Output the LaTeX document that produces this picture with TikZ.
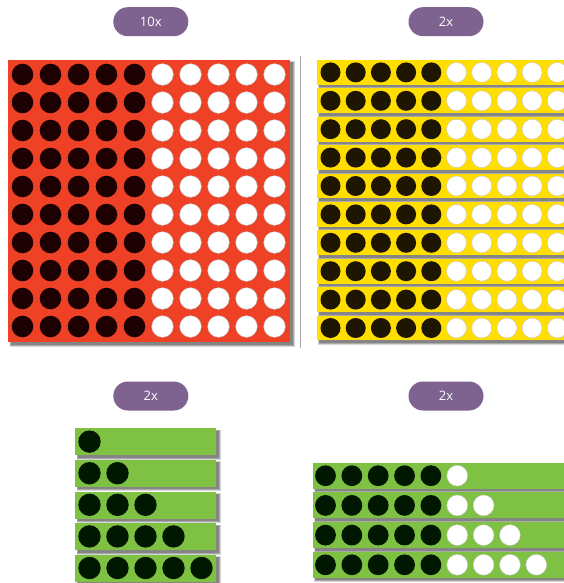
\documentclass[tikz,border=0pt]{standalone}
\usepackage{fontspec}
\setmainfont{Open Sans}
\definecolor{pillc}{HTML}{7E6390}
\definecolor{redc}{HTML}{EF4126}
\definecolor{yelc}{HTML}{FFDE00}
\definecolor{grnc}{HTML}{7EC143}
\definecolor{dkred}{HTML}{1C0002}
\definecolor{dkyel}{HTML}{1E1600}
\definecolor{dkgrn}{HTML}{001800}
\definecolor{shad}{HTML}{5A5A5A}
\begin{document}
\begin{tikzpicture}[x=1pt,y=-1pt,
  pill/.style={fill=pillc,rounded corners=14.5pt,minimum width=75pt,minimum height=29pt,inner sep=0pt,text=white,font=\fontsize{13}{13}\selectfont},
  whitedot/.style={fill=white,draw=gray!45,line width=0.4pt},
]
\clip (0,0) rectangle (564,583);
\fill[white] (0,0) rectangle (564,583);
% soft shadow macro via layered rectangles
\def\softshadow(#1,#2,#3,#4){%
  \fill[shad,opacity=0.25] (#1+1.5,#2+1.5) rectangle (#3+4.5,#4+4.5);
  \fill[shad,opacity=0.35] (#1+2,#2+2) rectangle (#3+3.5,#4+3.5);
  \fill[shad,opacity=0.45] (#1+2.5,#2+2.5) rectangle (#3+2.5,#4+2.5);
}
% labels
\node[pill] (l1) at (150.8,21.7) {10x};
\node[pill] (l2) at (446,21.7) {2x};
\node[pill] (l3) at (150.8,396) {2x};
\node[pill] (l4) at (446,396) {2x};
% divider
\draw[gray!70,line width=0.9pt] (300,56) -- (300,348);
% red square
\softshadow(8,60,290,342)
\fill[redc] (8,60) rectangle (290,342);
\foreach \j in {0,...,9}{
  \foreach \k in {0,...,4}{
    \fill[dkred] (22.5+28*\k,74.5+28*\j) circle (10.8);
  }
  \foreach \k in {5,...,9}{
    \draw[whitedot] (22.5+28*\k,74.5+28*\j) circle (10.8);
  }
}
% yellow strips
\foreach \i in {0,...,9}{
  \pgfmathsetmacro{\t}{60+28.4*\i}
  \softshadow(316.7,\t,570,\t+24.8)
  \fill[yelc] (316.7,\t) rectangle (570,\t+24.8);
  \foreach \k in {0,...,4}{
    \fill[dkyel] (330.5+25.2*\k,\t+12.4) circle (10);
  }
  \foreach \k in {5,...,9}{
    \draw[whitedot] (330.5+25.2*\k,\t+12.4) circle (10);
  }
}
% left green strips
\foreach \i in {0,...,4}{
  \pgfmathsetmacro{\t}{428.3+31.6*\i}
  \softshadow(75,\t,216,\t+27)
  \fill[grnc] (75,\t) rectangle (216,\t+27);
  \foreach \k in {0,...,\i}{
    \fill[dkgrn] (89.5+28*\k,\t+13.3) circle (11.2);
  }
}
% right green strips
\foreach \i in {0,...,3}{
  \pgfmathsetmacro{\t}{462.7+29.7*\i}
  \softshadow(312.7,\t,570,\t+26)
  \fill[grnc] (312.7,\t) rectangle (570,\t+26);
  \foreach \k in {0,...,4}{
    \fill[dkgrn] (325.5+26.35*\k,\t+13) circle (10.4);
  }
  \pgfmathtruncatemacro{\last}{5+\i}
  \foreach \k in {5,...,\last}{
    \draw[whitedot] (325.5+26.35*\k,\t+13) circle (10.4);
  }
}
\end{tikzpicture}
\end{document}
